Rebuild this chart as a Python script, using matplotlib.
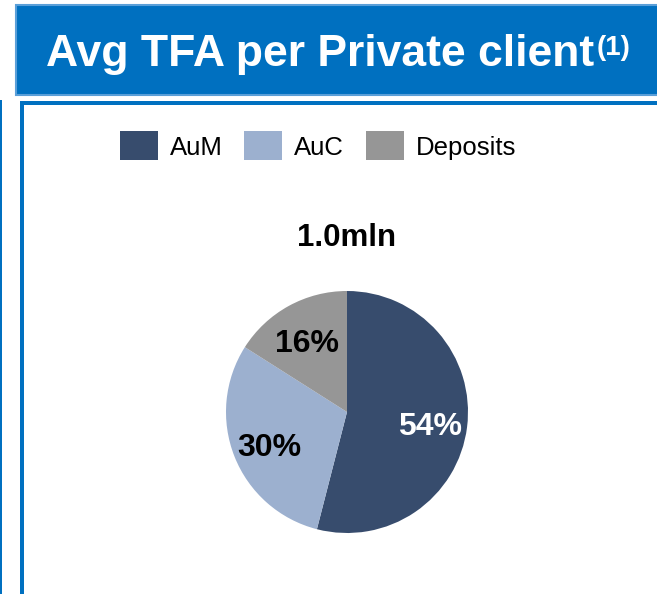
import matplotlib.pyplot as plt
from matplotlib.patches import Rectangle

plt.rcParams['font.family'] = ['Liberation Sans', 'DejaVu Sans']

# data
labels = ['AuM', 'AuC', 'Deposits']
shares = [54, 30, 16]
colors = ['#374C6D', '#9CB0CF', '#969696']
total_label = '1.0mln'
title = 'Avg TFA per Private client'

W, H = 657, 594
fig = plt.figure(figsize=(W / 100, H / 100), dpi=100)
blue = '#0070C0'


def box(x, y, w, h, **kw):
    # pixel coords, y from top
    fig.add_artist(Rectangle((x / W, 1 - (y + h) / H), w / W, h / H,
                             transform=fig.transFigure, **kw))


# header bar
box(16, 5, 660, 90, facecolor=blue, edgecolor='#5A9FD8', lw=1.5)
t = fig.text(46 / W, 1 - 66 / H, title, color='white', fontsize=32,
             fontweight='bold', va='baseline', ha='left')
fig.canvas.draw()
x_end = t.get_window_extent().x1
fig.text((x_end + 3) / W, 1 - 55 / H, '(1)', color='white', fontsize=20,
         fontweight='bold', va='baseline', ha='left')

# frame lines
box(0, 100, 1.5, 500, facecolor=blue, edgecolor='none')
box(20, 101, 4, 500, facecolor=blue, edgecolor='none')
box(20, 101, 640, 4, facecolor=blue, edgecolor='none')

# legend
lx = [120, 244, 366]
for x, lab, c in zip(lx, labels, colors):
    box(x, 131, 38, 29, facecolor=c, edgecolor='none')
    fig.text((x + 50) / W, 1 - 148 / H, lab, fontsize=18.5,
             va='center', ha='left', color='black')

fig.text(347 / W, 1 - 238 / H, total_label, fontsize=22.5, fontweight='bold',
         ha='center', va='center')

# pie
cx, cy, r = 347, 412, 121
ax = fig.add_axes([(cx - r) / W, 1 - (cy + r) / H, 2 * r / W, 2 * r / H])
wedges, texts, autotexts = ax.pie(shares, colors=colors, startangle=90,
                                  counterclock=False, radius=1,
                                  autopct='%d%%', pctdistance=0.69,
                                  wedgeprops=dict(linewidth=0),
                                  textprops=dict(fontsize=23, fontweight='bold'))
autotexts[0].set_color('white')
for a in autotexts:
    px, py = a.get_position()
    a.set_position((px, py - 0.04))
ax.set_xlim(-1, 1)
ax.set_ylim(-1, 1)
ax.set_aspect('equal')
ax.axis('off')

fig.savefig('out.png', dpi=100, facecolor='white')
